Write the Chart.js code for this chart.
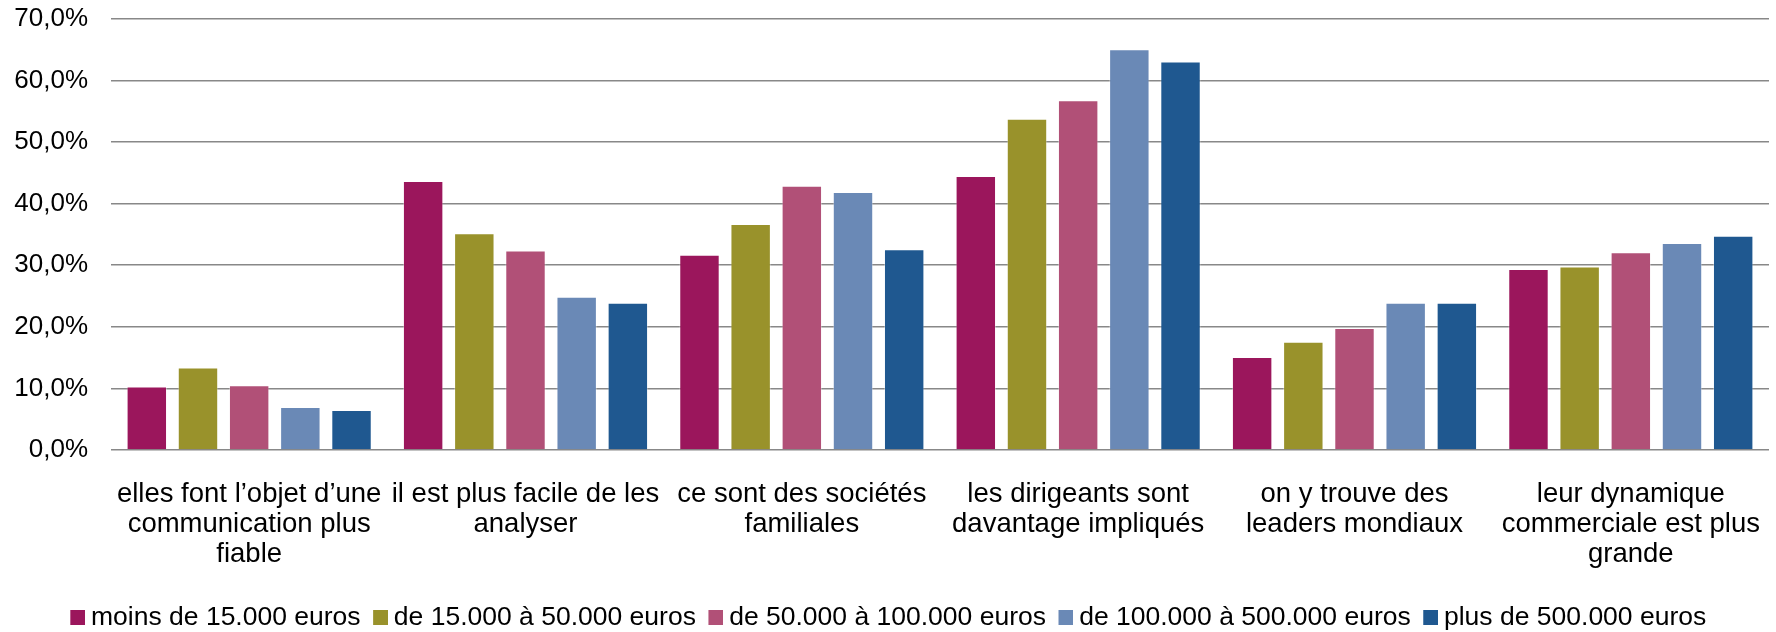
<!DOCTYPE html>
<html>
<head>
<meta charset="utf-8">
<script src="https://cdn.jsdelivr.net/npm/chart.js@4/dist/chart.umd.min.js"></script>
<style>
html,body{margin:0;padding:0;background:#fff;overflow:hidden;}
#wrap{width:1776px;height:632px;position:relative;}
</style>
</head>
<body>
<div id="wrap"><canvas id="c" width="1776" height="632"></canvas></div>
<script>
const categories = [
  ["elles font l\u2019objet d\u2019une", "communication plus", "fiable"],
  ["il est plus facile de les", "analyser"],
  ["ce sont des sociétés", "familiales"],
  ["les dirigeants sont", "davantage impliqués"],
  ["on y trouve des", "leaders mondiaux"],
  ["leur dynamique", "commerciale est plus", "grande"]
];
const seriesNames = [
  "moins de 15.000 euros",
  "de 15.000 à 50.000 euros",
  "de 50.000 à 100.000 euros",
  "de 100.000 à 500.000 euros",
  "plus de 500.000 euros"
];
const moins15k = [10.3, 43.7, 31.7, 44.5, 15.1, 29.4];
const de15a50k = [13.4, 35.2, 36.7, 53.8, 17.6, 29.8];
const de50a100k = [10.5, 32.4, 42.9, 56.8, 19.8, 32.1];
const de100a500k = [7.0, 24.9, 41.9, 65.1, 23.9, 33.6];
const plus500k = [6.5, 23.9, 32.6, 63.1, 23.9, 34.8];
const yTicks = [0, 10, 20, 30, 40, 50, 60, 70];

const colors = ["#9b165c", "#99922b", "#b15077", "#6a89b6", "#1f5890"];
const seriesValues = [moins15k, de15a50k, de50a100k, de100a500k, plus500k];

const FONT = "'Liberation Sans', Arial, sans-serif";

// legend swatches: 15px square placed on the right half of a 30px-wide image
const swatches = colors.map(c => {
  const cv = document.createElement('canvas');
  cv.width = 30; cv.height = 15;
  const g = cv.getContext('2d');
  g.fillStyle = c;
  g.fillRect(15, 0, 15, 15);
  return cv;
});

const datasets = seriesValues.map((vals, i) => ({
  label: seriesNames[i],
  data: vals,
  backgroundColor: colors[i],
  borderColor: 'rgba(255,255,255,0.35)',
  borderWidth: 1,
  categoryPercentage: 0.926,
  barPercentage: 0.79
}));

const legendShift = {
  id: 'legendShift',
  afterLayout(chart) {
    const l = chart.legend;
    if (l) { l.top += 9; l.bottom += 9; }
  }
};

new Chart(document.getElementById('c'), {
  type: 'bar',
  data: { labels: categories, datasets },
  plugins: [legendShift],
  options: {
    responsive: false,
    animation: false,
    devicePixelRatio: 1,
    layout: { padding: { top: 19, right: 7, left: 0, bottom: 0 } },
    plugins: {
      tooltip: { enabled: false },
      legend: {
        position: 'bottom',
        labels: {
          font: { family: FONT, size: 26.5 },
          color: '#000',
          boxWidth: 15,
          boxHeight: 15,
          usePointStyle: true,
          pointStyleWidth: 15,
          padding: 5,
          generateLabels(chart) {
            const items = Chart.defaults.plugins.legend.labels.generateLabels(chart);
            items.forEach((it, i) => { it.pointStyle = swatches[i]; });
            return items;
          }
        }
      }
    },
    scales: {
      x: {
        grid: { display: false, drawTicks: true, tickLength: 30, tickColor: 'rgba(0,0,0,0)' },
        border: { display: false },
        ticks: {
          font: { family: FONT, size: 27.5, lineHeight: 1.08 },
          color: '#000',
          padding: 0,
          maxRotation: 0,
          autoSkip: false
        },
        afterFit(scale) { scale.height = 632 - 450 - 41.5; }
      },
      y: {
        min: 0,
        max: 70,
        afterBuildTicks(scale) { scale.ticks = yTicks.map(v => ({ value: v })); },
        grid: { color: '#888888', lineWidth: 1.6, drawTicks: true, tickLength: 23, tickColor: 'rgba(0,0,0,0)' },
        border: { display: false },
        ticks: {
          font: { family: FONT, size: 26 },
          color: '#000',
          padding: 0,
          callback: v => v.toFixed(1).replace('.', ',') + '%'
        },
        afterFit(scale) { scale.width = 111; }
      }
    }
  }
});
</script>
</body>
</html>
